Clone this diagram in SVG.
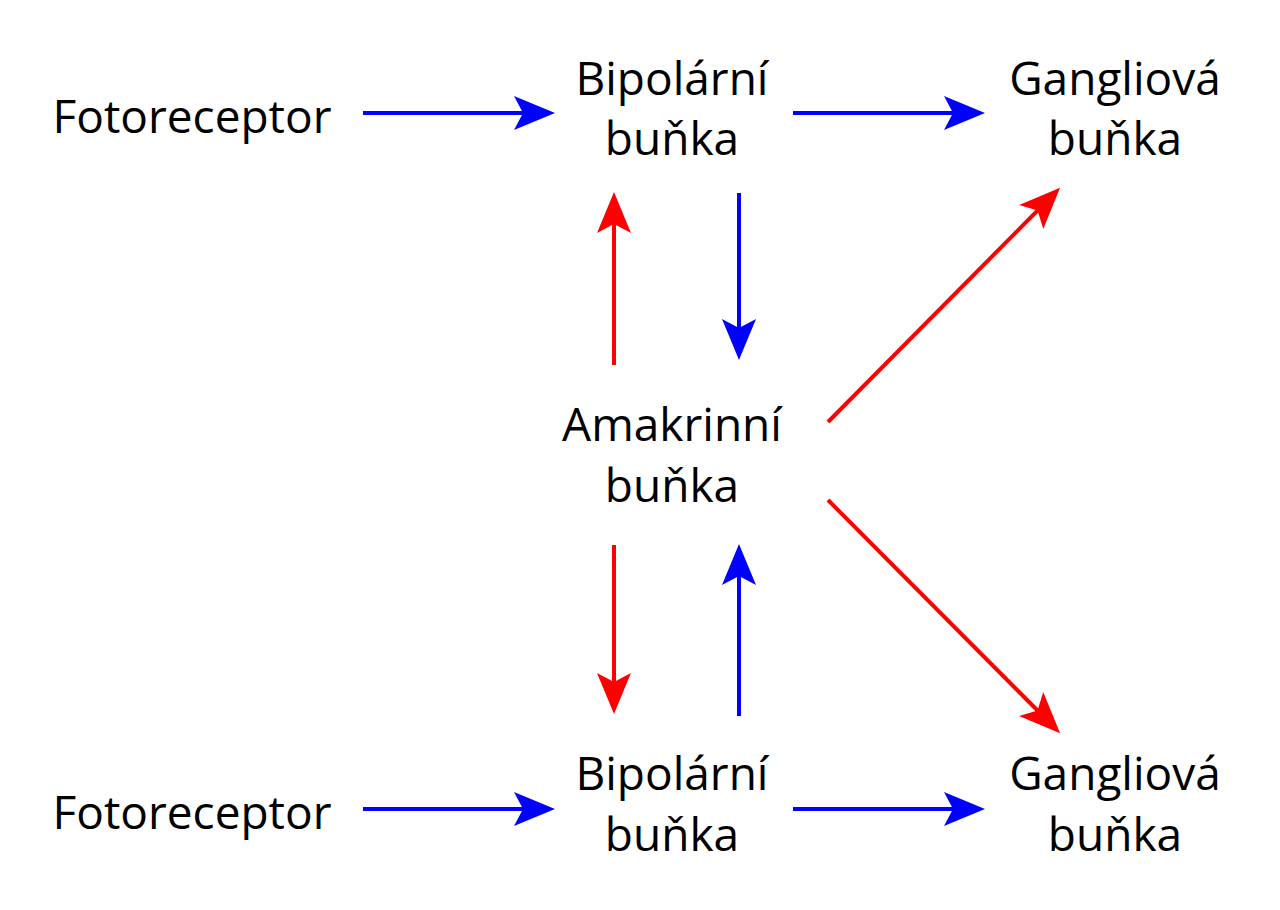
<svg xmlns="http://www.w3.org/2000/svg" width="1280" height="910" viewBox="0 0 1280 910">
<style>
text{font-family:"Open Sans","Noto Sans",sans-serif;font-size:46px;fill:#000;text-anchor:middle}
.b{stroke:#0000ff;stroke-width:4;fill:none}
.r{stroke:#ff0000;stroke-width:4;fill:none}
</style>
<defs>
<marker id="hb" markerUnits="userSpaceOnUse" markerWidth="44" markerHeight="40" viewBox="-1 -18 44 36" refX="21" refY="0" orient="auto"><path d="M0,-17 L41,0 L0,17 L9,0 Z" fill="#0000ff"/></marker>
<marker id="hr" markerUnits="userSpaceOnUse" markerWidth="44" markerHeight="40" viewBox="-1 -18 44 36" refX="21" refY="0" orient="auto"><path d="M0,-17 L41,0 L0,17 L9,0 Z" fill="#ff0000"/></marker>
</defs>
<g id="foto1"><text x="192" y="133">Fotoreceptor</text></g>
<g id="bip1"><text x="672" y="95">Bipolární</text><text x="672" y="155">buňka</text></g>
<g id="gang1"><text x="1115" y="95">Gangliová</text><text x="1115" y="155">buňka</text></g>
<g id="ama"><text x="672" y="441">Amakrinní</text><text x="672" y="502">buňka</text></g>
<g id="foto2"><text x="192" y="829">Fotoreceptor</text></g>
<g id="bip2"><text x="672" y="790">Bipolární</text><text x="672" y="851">buňka</text></g>
<g id="gang2"><text x="1115" y="790">Gangliová</text><text x="1115" y="851">buňka</text></g>
<g id="connectors">
<path class="b" d="M363,113 H535" marker-end="url(#hb)"/>
<path class="b" d="M793,113 H965" marker-end="url(#hb)"/>
<path class="r" d="M614,365 V212" marker-end="url(#hr)"/>
<path class="b" d="M739,193 V340" marker-end="url(#hb)"/>
<path class="r" d="M828,422 L1046,202" marker-end="url(#hr)"/>
<path class="r" d="M828,500 L1046,719" marker-end="url(#hr)"/>
<path class="r" d="M614,545 V694" marker-end="url(#hr)"/>
<path class="b" d="M739,716 V564" marker-end="url(#hb)"/>
<path class="b" d="M363,809 H535" marker-end="url(#hb)"/>
<path class="b" d="M793,809 H965" marker-end="url(#hb)"/>
</g>
</svg>
